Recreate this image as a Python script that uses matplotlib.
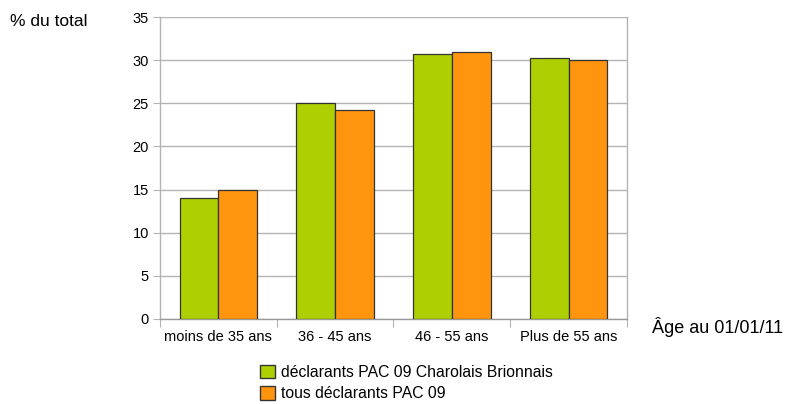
import numpy as np
import matplotlib.pyplot as plt
from matplotlib.patches import Patch

plt.rcParams['font.family'] = ['Liberation Sans', 'DejaVu Sans']

categories = ['moins de 35 ans', '36 - 45 ans', '46 - 55 ans', 'Plus de 55 ans']
charolais = [14.0, 25.0, 30.7, 30.2]
tous = [14.9, 24.2, 30.9, 30.0]
series_names = ['déclarants PAC 09 Charolais Brionnais', 'tous déclarants PAC 09']

green = '#aecf00'
orange = '#ff950e'
grid_col = '#b3b3b3'

fig = plt.figure(figsize=(7.86, 4.04), dpi=100)
ax = fig.add_axes([0.2036, 0.2104, 0.594, 0.7475])

x = np.arange(len(categories))
w = 0.333
ax.bar(x - w / 2, charolais, w, color=green, edgecolor='#333333', linewidth=0.9, zorder=3)
ax.bar(x + w / 2, tous, w, color=orange, edgecolor='#333333', linewidth=0.9, zorder=3)

ax.set_xlim(-0.5, len(categories) - 0.5)
ax.set_ylim(0, 35)
ax.set_yticks(np.arange(0, 36, 5))
ax.yaxis.grid(True, color=grid_col, linewidth=1, zorder=0)

# boundaries between categories get the tick marks, names sit in between
ax.set_xticks(np.arange(-0.5, len(categories), 1))
ax.set_xticklabels([])
ax.set_xticks(x, minor=True)
ax.set_xticklabels(categories, minor=True, fontsize=10.5)
ax.tick_params(axis='x', which='minor', length=0, pad=8)
ax.tick_params(axis='x', which='major', length=6, color=grid_col, direction='out')
ax.tick_params(axis='y', length=5, color=grid_col, labelsize=10.5, pad=3)

ax.spines['top'].set_visible(False)
for s in ['left', 'right', 'bottom']:
    ax.spines[s].set_color(grid_col)
    ax.spines[s].set_linewidth(1)
ax.spines['bottom'].set_color('#999999')

fig.text(10 / 786, 1 - 21 / 404, '% du total', fontsize=12.5, va='center', ha='left')
fig.text(652 / 786, 1 - 327 / 404, 'Âge au 01/01/11', fontsize=13, va='center', ha='left')

handles = [Patch(facecolor=green, edgecolor='#333333'), Patch(facecolor=orange, edgecolor='#333333')]
fig.legend(handles, series_names, loc='upper left', bbox_to_anchor=(252 / 786, 1 - 357 / 404),
           frameon=False, fontsize=11.3, handlelength=0.95, handleheight=0.95,
           handletextpad=0.4, labelspacing=0.4, borderpad=0)

fig.savefig('out.png', dpi=100)
